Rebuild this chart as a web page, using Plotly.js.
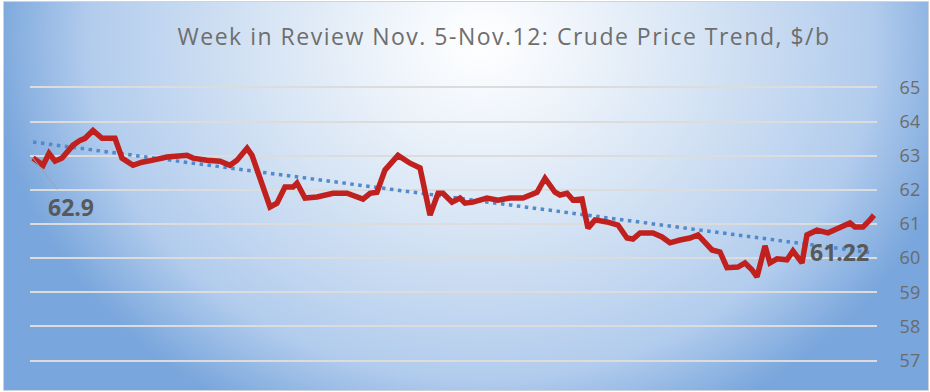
<!DOCTYPE html>
<html>
<head>
<meta charset="utf-8">
<script src="https://cdn.plot.ly/plotly-3.0.1.min.js"></script>
<style>
  html, body { margin: 0; padding: 0; background: #ffffff; width: 930px; height: 392px; overflow: hidden; }
  #bg { position: absolute; left: 3px; top: 1px; width: 924px; height: 388px;
        border: 1px solid #cfd3d8;
        background: radial-gradient(ellipse 490px 420px at 477px 40px, #ffffff 0%, #f3f7fc 15%, #d6e4f4 45%, #b2cced 80%, #79a6dc 100%); }
  #chart { position: absolute; left: 0; top: 0; width: 930px; height: 392px; }
  .gtitle { letter-spacing: 1.5px; }
</style>
</head>
<body>
<div id="bg"></div>
<div id="chart"></div>
<script>
// Share of the week elapsed (Nov. 5 -> Nov. 12), in %
const weekPct = [0, 1.19, 1.9, 2.62, 3.45, 4.76, 5.59, 6.18, 7.13, 8.2, 9.75, 10.58, 11.89, 12.96, 14.27,
  15.93, 18.31, 19.02, 20.69, 22.24, 23.42, 24.26, 25.45, 26.04, 28.18, 29.01, 29.96, 30.92, 31.39,
  32.34, 33.77, 35.67, 37.34, 38.05, 39.24, 40.07, 40.9, 41.85, 43.4, 44.83, 46.02, 47.21, 48.16,
  48.75, 49.82, 50.77, 51.37, 52.32, 53.98, 55.29, 56.72, 58.26, 59.93, 60.88, 62.07, 62.66, 63.5,
  64.21, 65.28, 65.99, 66.83, 68.25, 69.56, 70.63, 71.34, 72.18, 73.72, 74.79, 75.74, 76.93, 78.12,
  79.07, 80.74, 81.69, 82.52, 83.83, 84.66, 85.49, 86.09, 87.04, 87.63, 88.47, 89.65, 90.37, 91.44,
  92.03, 93.22, 94.53, 95.72, 97.15, 97.74, 98.69, 99.52, 100];
// Crude price, $/b
const crudePrice = [62.93, 62.72, 63.07, 62.84, 62.93, 63.31, 63.45, 63.51, 63.74, 63.51, 63.51, 62.93, 62.72, 62.81, 62.87,
  62.96, 63.01, 62.93, 62.87, 62.84, 62.72, 62.87, 63.22, 63.01, 61.5, 61.61, 62.08, 62.08, 62.2,
  61.76, 61.79, 61.9, 61.9, 61.85, 61.73, 61.9, 61.93, 62.58, 63.01, 62.78, 62.64, 61.26, 61.9,
  61.9, 61.64, 61.76, 61.61, 61.64, 61.76, 61.7, 61.76, 61.76, 61.93, 62.34, 61.93, 61.85, 61.9,
  61.7, 61.73, 60.88, 61.12, 61.06, 60.97, 60.59, 60.56, 60.74, 60.74, 60.62, 60.45, 60.53, 60.59,
  60.68, 60.24, 60.18, 59.72, 59.74, 59.86, 59.66, 59.45, 60.36, 59.86, 59.98, 59.95, 60.21, 59.86,
  60.68, 60.82, 60.74, 60.88, 61.03, 60.91, 60.91, 61.12, 61.26];
// Linear trend end points
const trendPct = [0, 100];
const trendPrice = [63.40, 60.15];
// Point labels
const startLabel = "62.9";
const endLabel = "61.22";
const endLabelValue = 61.22;
const yTicks = [57, 58, 59, 60, 61, 62, 63, 64, 65];

const titleText = "Week in Review Nov. 5-Nov.12: Crude Price Trend, $/b";

const traces = [
  { x: trendPct, y: trendPrice, type: 'scatter', mode: 'lines',
    line: { color: '#5089cc', width: 3.5, dash: '3.5px,4.5px' }, hoverinfo: 'skip' },
  { x: weekPct, y: crudePrice, type: 'scatter', mode: 'lines',
    line: { color: '#c0201e', width: 5.5, shape: 'linear' } }
];

const layout = {
  width: 930, height: 392,
  paper_bgcolor: 'rgba(0,0,0,0)', plot_bgcolor: 'rgba(0,0,0,0)',
  showlegend: false,
  margin: { l: 30, r: 53, t: 84, b: 28, pad: 0 },
  title: { text: titleText, x: 0.542, xanchor: 'center', y: 0.905, yanchor: 'middle',
           font: { family: 'Open Sans, sans-serif', size: 23, color: '#6e6e6e' } },
  xaxis: { range: [-0.36, 100.36], showgrid: false, zeroline: false, showticklabels: false,
           ticks: '', showline: false, fixedrange: true },
  yaxis: { range: [56.9, 65.1], side: 'right', tickvals: yTicks, ticktext: yTicks.map(String),
           showgrid: true, gridcolor: '#dcdcdc', gridwidth: 2, zeroline: false, showline: false,
           ticks: 'outside', ticklen: 18, tickcolor: 'rgba(0,0,0,0)',
           tickfont: { family: 'Open Sans, sans-serif', size: 18, color: '#6b6b6b' } },
  annotations: [
    { x: weekPct[0], y: crudePrice[0], xref: 'x', yref: 'y', text: '<b>' + startLabel + '</b>',
      showarrow: true, arrowhead: 0, arrowwidth: 1, arrowcolor: '#9aa3ad', ax: 38, ay: 49,
      font: { family: 'Open Sans, sans-serif', size: 23, color: '#595959' } },
    { x: weekPct[weekPct.length - 1], y: endLabelValue, xref: 'x', yref: 'y', text: '<b>' + endLabel + '</b>',
      showarrow: false, xanchor: 'center', yanchor: 'middle', xshift: -34, yshift: -36,
      font: { family: 'Open Sans, sans-serif', size: 23, color: '#595959' } }
  ]
};

Plotly.newPlot('chart', traces, layout, { displayModeBar: false, staticPlot: true });
</script>
</body>
</html>
